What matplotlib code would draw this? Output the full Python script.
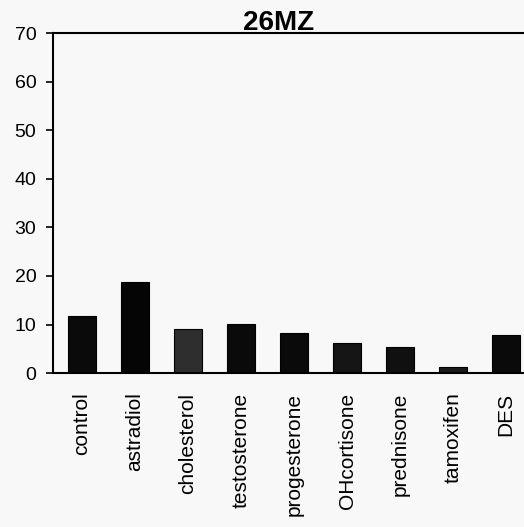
import numpy as np
import matplotlib.pyplot as plt

plt.rcParams['font.family'] = ['Liberation Sans', 'DejaVu Sans']

# treatment groups and measured response
treatments = ['control', 'astradiol', 'cholesterol', 'testosterone', 'progesterone',
              'OHcortisone', 'prednisone', 'tamoxifen', 'DES']
values = [11.8, 18.8, 9.0, 10.2, 8.2, 6.2, 5.4, 1.2, 7.8]
yticks = [0, 10, 20, 30, 40, 50, 60, 70]

fig = plt.figure(figsize=(5.24, 5.27), dpi=100, facecolor='#f8f8f8')
ax = fig.add_axes([0.101, 0.292, 0.899, 0.645])
ax.set_facecolor('#f8f8f8')

x = np.arange(len(treatments))
colors = ['#0a0a0a', '#050505', '#2e2e2e', '#0a0a0a', '#0a0a0a',
          '#151515', '#101010', '#1a1a1a', '#0a0a0a']
ax.bar(x, values, width=0.53, color=colors, edgecolor='#000000', linewidth=0.8)

ax.set_xlim(-0.55, 8.34)
ax.set_ylim(0, 70)
ax.set_yticks(yticks)
ax.set_yticklabels([str(v) for v in yticks], fontsize=14)
ax.set_xticks(x)
ax.set_xticklabels(treatments, rotation=90, fontsize=15)
ax.tick_params(axis='x', length=0, pad=14)
ax.tick_params(axis='y', direction='out', length=5, width=1.2, pad=7)

for side in ['left', 'top', 'bottom']:
    ax.spines[side].set_linewidth(1.5)
ax.spines['right'].set_visible(False)

fig.text(0.532, 0.956, '26MZ', ha='center', va='center', fontsize=20,
         fontweight='bold')

fig.savefig('out.png', dpi=100, facecolor=fig.get_facecolor())
